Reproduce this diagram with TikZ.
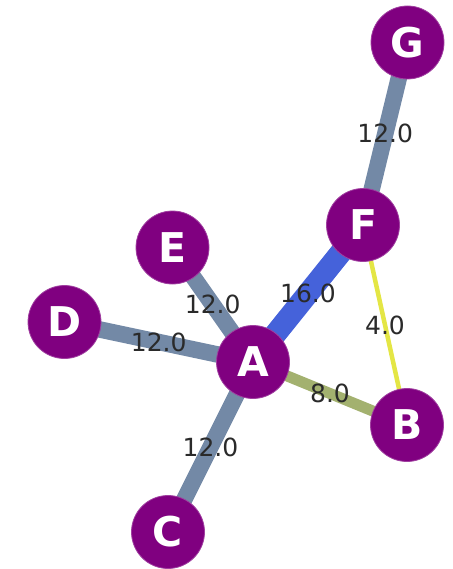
\documentclass[tikz,border=0pt]{standalone}
\usepackage{fontspec}
\setmainfont{DejaVu Sans}
\usetikzlibrary{backgrounds}
\definecolor{nodepurple}{HTML}{800080}
\definecolor{wslate}{HTML}{7389A6}
\definecolor{wblue}{HTML}{4562DA}
\definecolor{wolive}{HTML}{A3B16F}
\definecolor{wyellow}{HTML}{E4E645}
\definecolor{labelgray}{HTML}{2A2A2A}
\tikzset{
  vertex/.style={circle, fill=nodepurple, draw=nodepurple!75!white, line width=0.8pt,
    minimum size=73pt, inner sep=0pt, text=white,
    font=\fontsize{41}{41}\selectfont\bfseries},
  wedge/.style={line cap=butt},
  wlabel/.style={midway, text=labelgray, inner sep=0pt,
    font=\fontsize{25}{25}\selectfont},
}
\begin{document}
\begin{tikzpicture}[x=1pt,y=-1pt]
\useasboundingbox (0,0) rectangle (452,569);
\node[vertex] (G) at (407.5,42.5) {G};
\node[vertex] (F) at (363,225) {F};
\node[vertex] (E) at (172.5,247.5) {E};
\node[vertex] (D) at (64.5,322) {D};
\node[vertex] (A) at (253,362) {A};
\node[vertex] (B) at (407,425) {B};
\node[vertex] (C) at (168,532) {C};
\begin{pgfonlayer}{background}
\draw[wedge, wslate, line width=16.5pt] (G.center) -- (F.center) node[wlabel] (lGF) {12.0};
\draw[wedge, wslate, line width=16.5pt] (E.center) -- (A.center) node[wlabel] (lEA) {12.0};
\draw[wedge, wslate, line width=16.5pt] (D.center) -- (A.center) node[wlabel] (lDA) {12.0};
\draw[wedge, wslate, line width=16.5pt] (C.center) -- (A.center) node[wlabel] (lCA) {12.0};
\draw[wedge, wblue, line width=22pt] (A.center) -- (F.center) node[wlabel] (lAF) {16.0};
\draw[wedge, wolive, line width=11pt] (A.center) -- (B.center) node[wlabel] (lAB) {8.0};
\draw[wedge, wyellow, line width=4.5pt] (F.center) -- (B.center) node[wlabel] (lFB) {4.0};
\end{pgfonlayer}
\end{tikzpicture}
\end{document}
